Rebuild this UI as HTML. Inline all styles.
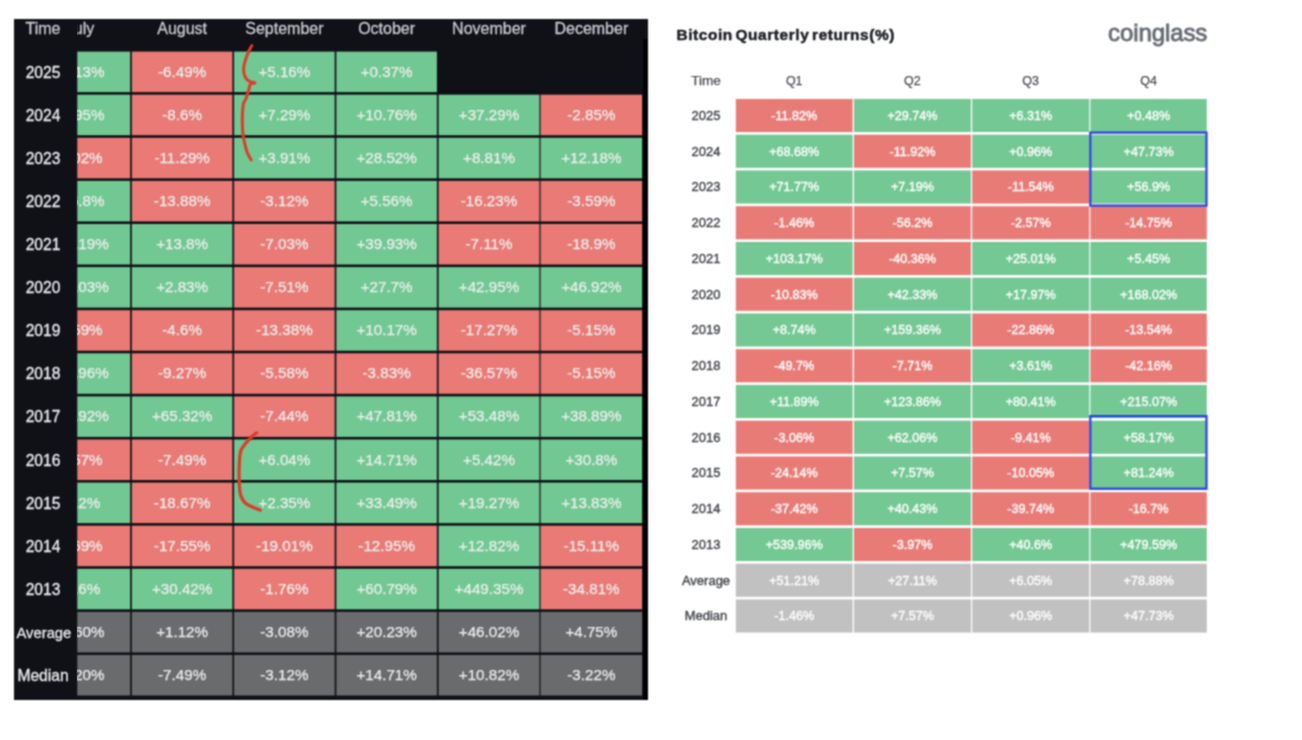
<!DOCTYPE html>
<html lang="en">
<head>
<meta charset="utf-8">
<title>Bitcoin Monthly and Quarterly returns(%)</title>
<style>
html,body{margin:0;padding:0;background:#fff;}
body{width:1302px;height:740px;position:relative;overflow:hidden;font-family:"Liberation Sans",sans-serif;}
svg.bg{position:absolute;left:0;top:0;filter:url(#soft);}
.lp{position:absolute;left:14px;top:19px;width:634px;height:681px;overflow:hidden;filter:url(#soft);}
.lp .c{position:absolute;height:40.5px;line-height:39.6px;text-align:center;color:#eceeed;font-size:15.2px;white-space:nowrap;-webkit-text-stroke:0.25px #eceeed;}
.lp .h{position:absolute;top:-5.5px;height:30px;line-height:30px;text-align:center;color:#c9cbce;font-size:16px;white-space:nowrap;-webkit-text-stroke:0.3px #c9cbce;}
.lp.cells{clip-path:inset(0 0 0 63.2px);}
.lp .y{position:absolute;left:-2.5px;width:63px;height:40.6px;line-height:42.8px;text-align:center;color:#eceded;font-size:15.6px;white-space:nowrap;-webkit-text-stroke:0.3px #eceded;}
.rp{position:absolute;left:650px;top:0;width:652px;height:740px;filter:url(#soft);}
.rp .c{position:absolute;height:33.1px;line-height:35.3px;text-align:center;color:#fbfdfc;font-size:12.6px;-webkit-text-stroke:0.4px #fbfdfc;white-space:nowrap;overflow:hidden;}
.rp .h{position:absolute;top:70px;height:22px;line-height:22px;text-align:center;color:#4b4e55;font-size:12.5px;white-space:nowrap;-webkit-text-stroke:0.25px #4b4e55;}
.rp .y{position:absolute;left:17px;width:78px;height:33.1px;line-height:34.3px;text-align:center;color:#44474d;font-size:13px;white-space:nowrap;-webkit-text-stroke:0.4px #44474d;}
.rp .title{position:absolute;left:26.5px;top:23.5px;font-size:15.4px;font-weight:bold;color:#1d1f24;line-height:22px;white-space:nowrap;letter-spacing:0.6px;word-spacing:-2.2px;-webkit-text-stroke:0.5px #1d1f24;}
.rp .logo{position:absolute;right:94.8px;top:18.2px;font-size:24px;color:#6a6e76;line-height:30px;white-space:nowrap;letter-spacing:-0.1px;-webkit-text-stroke:0.9px #6a6e76;}
svg.ann{position:absolute;left:0;top:0;filter:url(#soft);}
</style>
</head>
<body>
<svg width="0" height="0" style="position:absolute"><defs><filter id="soft" x="0" y="0" width="100%" height="100%" color-interpolation-filters="sRGB"><feConvolveMatrix order="3" kernelMatrix="1 2 1 2 4 2 1 2 1" divisor="16" edgeMode="duplicate" preserveAlpha="false"/></filter></defs></svg>
<svg class="bg" width="1302" height="740" viewBox="0 0 1302 740">
<rect x="14" y="19" width="634" height="681" fill="#0f1117"/>
<rect x="643.2" y="39" width="4.8" height="661" fill="#020203"/>
<rect x="77.30" y="51.60" width="52.85" height="40.5" fill="#72c893"/>
<rect x="131.85" y="51.60" width="100.55" height="40.5" fill="#e97a76"/>
<rect x="234.10" y="51.60" width="100.55" height="40.5" fill="#72c893"/>
<rect x="336.35" y="51.60" width="100.55" height="40.5" fill="#72c893"/>
<rect x="77.30" y="94.70" width="52.85" height="40.5" fill="#72c893"/>
<rect x="131.85" y="94.70" width="100.55" height="40.5" fill="#e97a76"/>
<rect x="234.10" y="94.70" width="100.55" height="40.5" fill="#72c893"/>
<rect x="336.35" y="94.70" width="100.55" height="40.5" fill="#72c893"/>
<rect x="438.60" y="94.70" width="100.80" height="40.5" fill="#72c893"/>
<rect x="540.60" y="94.70" width="101.50" height="40.5" fill="#e97a76"/>
<rect x="77.30" y="137.80" width="52.85" height="40.5" fill="#e97a76"/>
<rect x="131.85" y="137.80" width="100.55" height="40.5" fill="#e97a76"/>
<rect x="234.10" y="137.80" width="100.55" height="40.5" fill="#72c893"/>
<rect x="336.35" y="137.80" width="100.55" height="40.5" fill="#72c893"/>
<rect x="438.60" y="137.80" width="100.80" height="40.5" fill="#72c893"/>
<rect x="540.60" y="137.80" width="101.50" height="40.5" fill="#72c893"/>
<rect x="77.30" y="180.90" width="52.85" height="40.5" fill="#72c893"/>
<rect x="131.85" y="180.90" width="100.55" height="40.5" fill="#e97a76"/>
<rect x="234.10" y="180.90" width="100.55" height="40.5" fill="#e97a76"/>
<rect x="336.35" y="180.90" width="100.55" height="40.5" fill="#72c893"/>
<rect x="438.60" y="180.90" width="100.80" height="40.5" fill="#e97a76"/>
<rect x="540.60" y="180.90" width="101.50" height="40.5" fill="#e97a76"/>
<rect x="77.30" y="224.00" width="52.85" height="40.5" fill="#72c893"/>
<rect x="131.85" y="224.00" width="100.55" height="40.5" fill="#72c893"/>
<rect x="234.10" y="224.00" width="100.55" height="40.5" fill="#e97a76"/>
<rect x="336.35" y="224.00" width="100.55" height="40.5" fill="#72c893"/>
<rect x="438.60" y="224.00" width="100.80" height="40.5" fill="#e97a76"/>
<rect x="540.60" y="224.00" width="101.50" height="40.5" fill="#e97a76"/>
<rect x="77.30" y="267.10" width="52.85" height="40.5" fill="#72c893"/>
<rect x="131.85" y="267.10" width="100.55" height="40.5" fill="#72c893"/>
<rect x="234.10" y="267.10" width="100.55" height="40.5" fill="#e97a76"/>
<rect x="336.35" y="267.10" width="100.55" height="40.5" fill="#72c893"/>
<rect x="438.60" y="267.10" width="100.80" height="40.5" fill="#72c893"/>
<rect x="540.60" y="267.10" width="101.50" height="40.5" fill="#72c893"/>
<rect x="77.30" y="310.20" width="52.85" height="40.5" fill="#e97a76"/>
<rect x="131.85" y="310.20" width="100.55" height="40.5" fill="#e97a76"/>
<rect x="234.10" y="310.20" width="100.55" height="40.5" fill="#e97a76"/>
<rect x="336.35" y="310.20" width="100.55" height="40.5" fill="#72c893"/>
<rect x="438.60" y="310.20" width="100.80" height="40.5" fill="#e97a76"/>
<rect x="540.60" y="310.20" width="101.50" height="40.5" fill="#e97a76"/>
<rect x="77.30" y="353.30" width="52.85" height="40.5" fill="#72c893"/>
<rect x="131.85" y="353.30" width="100.55" height="40.5" fill="#e97a76"/>
<rect x="234.10" y="353.30" width="100.55" height="40.5" fill="#e97a76"/>
<rect x="336.35" y="353.30" width="100.55" height="40.5" fill="#e97a76"/>
<rect x="438.60" y="353.30" width="100.80" height="40.5" fill="#e97a76"/>
<rect x="540.60" y="353.30" width="101.50" height="40.5" fill="#e97a76"/>
<rect x="77.30" y="396.40" width="52.85" height="40.5" fill="#72c893"/>
<rect x="131.85" y="396.40" width="100.55" height="40.5" fill="#72c893"/>
<rect x="234.10" y="396.40" width="100.55" height="40.5" fill="#e97a76"/>
<rect x="336.35" y="396.40" width="100.55" height="40.5" fill="#72c893"/>
<rect x="438.60" y="396.40" width="100.80" height="40.5" fill="#72c893"/>
<rect x="540.60" y="396.40" width="101.50" height="40.5" fill="#72c893"/>
<rect x="77.30" y="439.50" width="52.85" height="40.5" fill="#e97a76"/>
<rect x="131.85" y="439.50" width="100.55" height="40.5" fill="#e97a76"/>
<rect x="234.10" y="439.50" width="100.55" height="40.5" fill="#72c893"/>
<rect x="336.35" y="439.50" width="100.55" height="40.5" fill="#72c893"/>
<rect x="438.60" y="439.50" width="100.80" height="40.5" fill="#72c893"/>
<rect x="540.60" y="439.50" width="101.50" height="40.5" fill="#72c893"/>
<rect x="77.30" y="482.60" width="52.85" height="40.5" fill="#72c893"/>
<rect x="131.85" y="482.60" width="100.55" height="40.5" fill="#e97a76"/>
<rect x="234.10" y="482.60" width="100.55" height="40.5" fill="#72c893"/>
<rect x="336.35" y="482.60" width="100.55" height="40.5" fill="#72c893"/>
<rect x="438.60" y="482.60" width="100.80" height="40.5" fill="#72c893"/>
<rect x="540.60" y="482.60" width="101.50" height="40.5" fill="#72c893"/>
<rect x="77.30" y="525.70" width="52.85" height="40.5" fill="#e97a76"/>
<rect x="131.85" y="525.70" width="100.55" height="40.5" fill="#e97a76"/>
<rect x="234.10" y="525.70" width="100.55" height="40.5" fill="#e97a76"/>
<rect x="336.35" y="525.70" width="100.55" height="40.5" fill="#e97a76"/>
<rect x="438.60" y="525.70" width="100.80" height="40.5" fill="#72c893"/>
<rect x="540.60" y="525.70" width="101.50" height="40.5" fill="#e97a76"/>
<rect x="77.30" y="568.80" width="52.85" height="40.5" fill="#72c893"/>
<rect x="131.85" y="568.80" width="100.55" height="40.5" fill="#72c893"/>
<rect x="234.10" y="568.80" width="100.55" height="40.5" fill="#e97a76"/>
<rect x="336.35" y="568.80" width="100.55" height="40.5" fill="#72c893"/>
<rect x="438.60" y="568.80" width="100.80" height="40.5" fill="#72c893"/>
<rect x="540.60" y="568.80" width="101.50" height="40.5" fill="#e97a76"/>
<rect x="77.30" y="611.90" width="52.85" height="40.5" fill="#6a6b6d"/>
<rect x="131.85" y="611.90" width="100.55" height="40.5" fill="#6a6b6d"/>
<rect x="234.10" y="611.90" width="100.55" height="40.5" fill="#6a6b6d"/>
<rect x="336.35" y="611.90" width="100.55" height="40.5" fill="#6a6b6d"/>
<rect x="438.60" y="611.90" width="100.80" height="40.5" fill="#6a6b6d"/>
<rect x="540.60" y="611.90" width="101.50" height="40.5" fill="#6a6b6d"/>
<rect x="77.30" y="655.00" width="52.85" height="40.5" fill="#6a6b6d"/>
<rect x="131.85" y="655.00" width="100.55" height="40.5" fill="#6a6b6d"/>
<rect x="234.10" y="655.00" width="100.55" height="40.5" fill="#6a6b6d"/>
<rect x="336.35" y="655.00" width="100.55" height="40.5" fill="#6a6b6d"/>
<rect x="438.60" y="655.00" width="100.80" height="40.5" fill="#6a6b6d"/>
<rect x="540.60" y="655.00" width="101.50" height="40.5" fill="#6a6b6d"/>
<rect x="735.80" y="98.95" width="116.90" height="33.1" fill="#e97b77"/>
<rect x="854.00" y="98.95" width="116.90" height="33.1" fill="#74c894"/>
<rect x="972.20" y="98.95" width="117.00" height="33.1" fill="#74c894"/>
<rect x="1090.40" y="98.95" width="116.40" height="33.1" fill="#74c894"/>
<rect x="735.80" y="134.70" width="116.90" height="33.1" fill="#74c894"/>
<rect x="854.00" y="134.70" width="116.90" height="33.1" fill="#e97b77"/>
<rect x="972.20" y="134.70" width="117.00" height="33.1" fill="#74c894"/>
<rect x="1090.40" y="134.70" width="116.40" height="33.1" fill="#74c894"/>
<rect x="735.80" y="170.45" width="116.90" height="33.1" fill="#74c894"/>
<rect x="854.00" y="170.45" width="116.90" height="33.1" fill="#74c894"/>
<rect x="972.20" y="170.45" width="117.00" height="33.1" fill="#e97b77"/>
<rect x="1090.40" y="170.45" width="116.40" height="33.1" fill="#74c894"/>
<rect x="735.80" y="206.20" width="116.90" height="33.1" fill="#e97b77"/>
<rect x="854.00" y="206.20" width="116.90" height="33.1" fill="#e97b77"/>
<rect x="972.20" y="206.20" width="117.00" height="33.1" fill="#e97b77"/>
<rect x="1090.40" y="206.20" width="116.40" height="33.1" fill="#e97b77"/>
<rect x="735.80" y="241.95" width="116.90" height="33.1" fill="#74c894"/>
<rect x="854.00" y="241.95" width="116.90" height="33.1" fill="#e97b77"/>
<rect x="972.20" y="241.95" width="117.00" height="33.1" fill="#74c894"/>
<rect x="1090.40" y="241.95" width="116.40" height="33.1" fill="#74c894"/>
<rect x="735.80" y="277.70" width="116.90" height="33.1" fill="#e97b77"/>
<rect x="854.00" y="277.70" width="116.90" height="33.1" fill="#74c894"/>
<rect x="972.20" y="277.70" width="117.00" height="33.1" fill="#74c894"/>
<rect x="1090.40" y="277.70" width="116.40" height="33.1" fill="#74c894"/>
<rect x="735.80" y="313.45" width="116.90" height="33.1" fill="#74c894"/>
<rect x="854.00" y="313.45" width="116.90" height="33.1" fill="#74c894"/>
<rect x="972.20" y="313.45" width="117.00" height="33.1" fill="#e97b77"/>
<rect x="1090.40" y="313.45" width="116.40" height="33.1" fill="#e97b77"/>
<rect x="735.80" y="349.20" width="116.90" height="33.1" fill="#e97b77"/>
<rect x="854.00" y="349.20" width="116.90" height="33.1" fill="#e97b77"/>
<rect x="972.20" y="349.20" width="117.00" height="33.1" fill="#74c894"/>
<rect x="1090.40" y="349.20" width="116.40" height="33.1" fill="#e97b77"/>
<rect x="735.80" y="384.95" width="116.90" height="33.1" fill="#74c894"/>
<rect x="854.00" y="384.95" width="116.90" height="33.1" fill="#74c894"/>
<rect x="972.20" y="384.95" width="117.00" height="33.1" fill="#74c894"/>
<rect x="1090.40" y="384.95" width="116.40" height="33.1" fill="#74c894"/>
<rect x="735.80" y="420.70" width="116.90" height="33.1" fill="#e97b77"/>
<rect x="854.00" y="420.70" width="116.90" height="33.1" fill="#74c894"/>
<rect x="972.20" y="420.70" width="117.00" height="33.1" fill="#e97b77"/>
<rect x="1090.40" y="420.70" width="116.40" height="33.1" fill="#74c894"/>
<rect x="735.80" y="456.45" width="116.90" height="33.1" fill="#e97b77"/>
<rect x="854.00" y="456.45" width="116.90" height="33.1" fill="#74c894"/>
<rect x="972.20" y="456.45" width="117.00" height="33.1" fill="#e97b77"/>
<rect x="1090.40" y="456.45" width="116.40" height="33.1" fill="#74c894"/>
<rect x="735.80" y="492.20" width="116.90" height="33.1" fill="#e97b77"/>
<rect x="854.00" y="492.20" width="116.90" height="33.1" fill="#74c894"/>
<rect x="972.20" y="492.20" width="117.00" height="33.1" fill="#e97b77"/>
<rect x="1090.40" y="492.20" width="116.40" height="33.1" fill="#e97b77"/>
<rect x="735.80" y="527.95" width="116.90" height="33.1" fill="#74c894"/>
<rect x="854.00" y="527.95" width="116.90" height="33.1" fill="#e97b77"/>
<rect x="972.20" y="527.95" width="117.00" height="33.1" fill="#74c894"/>
<rect x="1090.40" y="527.95" width="116.40" height="33.1" fill="#74c894"/>
<rect x="735.80" y="563.70" width="116.90" height="33.1" fill="#c1c1c1"/>
<rect x="854.00" y="563.70" width="116.90" height="33.1" fill="#c1c1c1"/>
<rect x="972.20" y="563.70" width="117.00" height="33.1" fill="#c1c1c1"/>
<rect x="1090.40" y="563.70" width="116.40" height="33.1" fill="#c1c1c1"/>
<rect x="735.80" y="599.45" width="116.90" height="33.1" fill="#c1c1c1"/>
<rect x="854.00" y="599.45" width="116.90" height="33.1" fill="#c1c1c1"/>
<rect x="972.20" y="599.45" width="117.00" height="33.1" fill="#c1c1c1"/>
<rect x="1090.40" y="599.45" width="116.40" height="33.1" fill="#c1c1c1"/>
<g fill="none" stroke="#2a3fe2" stroke-width="2.2">
<rect x="1090.3" y="132.6" width="116.2" height="73"/>
<rect x="1090.3" y="416.1" width="116.2" height="72.6"/>
</g>
</svg>
<div class="lp cells">
<div class="h" style="left:16.00px;width:100.15px">July</div>
<div class="h" style="left:117.85px;width:100.55px">August</div>
<div class="h" style="left:220.10px;width:100.55px">September</div>
<div class="h" style="left:322.35px;width:100.55px">October</div>
<div class="h" style="left:424.60px;width:100.80px">November</div>
<div class="h" style="left:526.60px;width:101.50px">December</div>
<div class="c" style="left:14.50px;top:32.60px;width:100.15px">+8.13%</div>
<div class="c" style="left:117.85px;top:32.60px;width:100.55px">-6.49%</div>
<div class="c" style="left:220.10px;top:32.60px;width:100.55px">+5.16%</div>
<div class="c" style="left:322.35px;top:32.60px;width:100.55px">+0.37%</div>
<div class="c" style="left:14.50px;top:75.70px;width:100.15px">+2.95%</div>
<div class="c" style="left:117.85px;top:75.70px;width:100.55px">-8.6%</div>
<div class="c" style="left:220.10px;top:75.70px;width:100.55px">+7.29%</div>
<div class="c" style="left:322.35px;top:75.70px;width:100.55px">+10.76%</div>
<div class="c" style="left:424.60px;top:75.70px;width:100.80px">+37.29%</div>
<div class="c" style="left:526.60px;top:75.70px;width:101.50px">-2.85%</div>
<div class="c" style="left:14.50px;top:118.80px;width:100.15px">-4.02%</div>
<div class="c" style="left:117.85px;top:118.80px;width:100.55px">-11.29%</div>
<div class="c" style="left:220.10px;top:118.80px;width:100.55px">+3.91%</div>
<div class="c" style="left:322.35px;top:118.80px;width:100.55px">+28.52%</div>
<div class="c" style="left:424.60px;top:118.80px;width:100.80px">+8.81%</div>
<div class="c" style="left:526.60px;top:118.80px;width:101.50px">+12.18%</div>
<div class="c" style="left:14.50px;top:161.90px;width:100.15px">+16.8%</div>
<div class="c" style="left:117.85px;top:161.90px;width:100.55px">-13.88%</div>
<div class="c" style="left:220.10px;top:161.90px;width:100.55px">-3.12%</div>
<div class="c" style="left:322.35px;top:161.90px;width:100.55px">+5.56%</div>
<div class="c" style="left:424.60px;top:161.90px;width:100.80px">-16.23%</div>
<div class="c" style="left:526.60px;top:161.90px;width:101.50px">-3.59%</div>
<div class="c" style="left:14.50px;top:205.00px;width:100.15px">+18.19%</div>
<div class="c" style="left:117.85px;top:205.00px;width:100.55px">+13.8%</div>
<div class="c" style="left:220.10px;top:205.00px;width:100.55px">-7.03%</div>
<div class="c" style="left:322.35px;top:205.00px;width:100.55px">+39.93%</div>
<div class="c" style="left:424.60px;top:205.00px;width:100.80px">-7.11%</div>
<div class="c" style="left:526.60px;top:205.00px;width:101.50px">-18.9%</div>
<div class="c" style="left:14.50px;top:248.10px;width:100.15px">+24.03%</div>
<div class="c" style="left:117.85px;top:248.10px;width:100.55px">+2.83%</div>
<div class="c" style="left:220.10px;top:248.10px;width:100.55px">-7.51%</div>
<div class="c" style="left:322.35px;top:248.10px;width:100.55px">+27.7%</div>
<div class="c" style="left:424.60px;top:248.10px;width:100.80px">+42.95%</div>
<div class="c" style="left:526.60px;top:248.10px;width:101.50px">+46.92%</div>
<div class="c" style="left:14.50px;top:291.20px;width:100.15px">-6.59%</div>
<div class="c" style="left:117.85px;top:291.20px;width:100.55px">-4.6%</div>
<div class="c" style="left:220.10px;top:291.20px;width:100.55px">-13.38%</div>
<div class="c" style="left:322.35px;top:291.20px;width:100.55px">+10.17%</div>
<div class="c" style="left:424.60px;top:291.20px;width:100.80px">-17.27%</div>
<div class="c" style="left:526.60px;top:291.20px;width:101.50px">-5.15%</div>
<div class="c" style="left:14.50px;top:334.30px;width:100.15px">+20.96%</div>
<div class="c" style="left:117.85px;top:334.30px;width:100.55px">-9.27%</div>
<div class="c" style="left:220.10px;top:334.30px;width:100.55px">-5.58%</div>
<div class="c" style="left:322.35px;top:334.30px;width:100.55px">-3.83%</div>
<div class="c" style="left:424.60px;top:334.30px;width:100.80px">-36.57%</div>
<div class="c" style="left:526.60px;top:334.30px;width:101.50px">-5.15%</div>
<div class="c" style="left:14.50px;top:377.40px;width:100.15px">+17.92%</div>
<div class="c" style="left:117.85px;top:377.40px;width:100.55px">+65.32%</div>
<div class="c" style="left:220.10px;top:377.40px;width:100.55px">-7.44%</div>
<div class="c" style="left:322.35px;top:377.40px;width:100.55px">+47.81%</div>
<div class="c" style="left:424.60px;top:377.40px;width:100.80px">+53.48%</div>
<div class="c" style="left:526.60px;top:377.40px;width:101.50px">+38.89%</div>
<div class="c" style="left:14.50px;top:420.50px;width:100.15px">-7.57%</div>
<div class="c" style="left:117.85px;top:420.50px;width:100.55px">-7.49%</div>
<div class="c" style="left:220.10px;top:420.50px;width:100.55px">+6.04%</div>
<div class="c" style="left:322.35px;top:420.50px;width:100.55px">+14.71%</div>
<div class="c" style="left:424.60px;top:420.50px;width:100.80px">+5.42%</div>
<div class="c" style="left:526.60px;top:420.50px;width:101.50px">+30.8%</div>
<div class="c" style="left:14.50px;top:463.60px;width:100.15px">+8.2%</div>
<div class="c" style="left:117.85px;top:463.60px;width:100.55px">-18.67%</div>
<div class="c" style="left:220.10px;top:463.60px;width:100.55px">+2.35%</div>
<div class="c" style="left:322.35px;top:463.60px;width:100.55px">+33.49%</div>
<div class="c" style="left:424.60px;top:463.60px;width:100.80px">+19.27%</div>
<div class="c" style="left:526.60px;top:463.60px;width:101.50px">+13.83%</div>
<div class="c" style="left:14.50px;top:506.70px;width:100.15px">-9.69%</div>
<div class="c" style="left:117.85px;top:506.70px;width:100.55px">-17.55%</div>
<div class="c" style="left:220.10px;top:506.70px;width:100.55px">-19.01%</div>
<div class="c" style="left:322.35px;top:506.70px;width:100.55px">-12.95%</div>
<div class="c" style="left:424.60px;top:506.70px;width:100.80px">+12.82%</div>
<div class="c" style="left:526.60px;top:506.70px;width:101.50px">-15.11%</div>
<div class="c" style="left:14.50px;top:549.80px;width:100.15px">+9.6%</div>
<div class="c" style="left:117.85px;top:549.80px;width:100.55px">+30.42%</div>
<div class="c" style="left:220.10px;top:549.80px;width:100.55px">-1.76%</div>
<div class="c" style="left:322.35px;top:549.80px;width:100.55px">+60.79%</div>
<div class="c" style="left:424.60px;top:549.80px;width:100.80px">+449.35%</div>
<div class="c" style="left:526.60px;top:549.80px;width:101.50px">-34.81%</div>
<div class="c" style="left:14.50px;top:592.90px;width:100.15px">+7.60%</div>
<div class="c" style="left:117.85px;top:592.90px;width:100.55px">+1.12%</div>
<div class="c" style="left:220.10px;top:592.90px;width:100.55px">-3.08%</div>
<div class="c" style="left:322.35px;top:592.90px;width:100.55px">+20.23%</div>
<div class="c" style="left:424.60px;top:592.90px;width:100.80px">+46.02%</div>
<div class="c" style="left:526.60px;top:592.90px;width:101.50px">+4.75%</div>
<div class="c" style="left:14.50px;top:636.00px;width:100.15px">+8.20%</div>
<div class="c" style="left:117.85px;top:636.00px;width:100.55px">-7.49%</div>
<div class="c" style="left:220.10px;top:636.00px;width:100.55px">-3.12%</div>
<div class="c" style="left:322.35px;top:636.00px;width:100.55px">+14.71%</div>
<div class="c" style="left:424.60px;top:636.00px;width:100.80px">+10.82%</div>
<div class="c" style="left:526.60px;top:636.00px;width:101.50px">-3.22%</div>
</div>
<div class="lp">
<div class="h" style="left:-2.5px;width:63px">Time</div>
<div class="y" style="top:32.60px">2025</div>
<div class="y" style="top:75.70px">2024</div>
<div class="y" style="top:118.80px">2023</div>
<div class="y" style="top:161.90px">2022</div>
<div class="y" style="top:205.00px">2021</div>
<div class="y" style="top:248.10px">2020</div>
<div class="y" style="top:291.20px">2019</div>
<div class="y" style="top:334.30px">2018</div>
<div class="y" style="top:377.40px">2017</div>
<div class="y" style="top:420.50px">2016</div>
<div class="y" style="top:463.60px">2015</div>
<div class="y" style="top:506.70px">2014</div>
<div class="y" style="top:549.80px">2013</div>
<div class="y" style="top:592.90px;font-size:14.8px;left:-1.6px">Average</div>
<div class="y" style="top:636.00px">Median</div>
</div>
<div class="rp">
<div class="title">Bitcoin Quarterly returns(%)</div>
<div class="logo">coinglass</div>
<div class="h" style="left:17px;width:78px;font-size:13.6px">Time</div>
<div class="h" style="left:85.80px;width:116.90px">Q1</div>
<div class="h" style="left:204.00px;width:116.90px">Q2</div>
<div class="h" style="left:322.20px;width:117.00px">Q3</div>
<div class="h" style="left:440.40px;width:116.40px">Q4</div>
<div class="y" style="top:98.95px">2025</div>
<div class="c" style="left:85.80px;top:98.95px;width:116.90px">-11.82%</div>
<div class="c" style="left:204.00px;top:98.95px;width:116.90px">+29.74%</div>
<div class="c" style="left:322.20px;top:98.95px;width:117.00px">+6.31%</div>
<div class="c" style="left:440.40px;top:98.95px;width:116.40px">+0.48%</div>
<div class="y" style="top:134.70px">2024</div>
<div class="c" style="left:85.80px;top:134.70px;width:116.90px">+68.68%</div>
<div class="c" style="left:204.00px;top:134.70px;width:116.90px">-11.92%</div>
<div class="c" style="left:322.20px;top:134.70px;width:117.00px">+0.96%</div>
<div class="c" style="left:440.40px;top:134.70px;width:116.40px">+47.73%</div>
<div class="y" style="top:170.45px">2023</div>
<div class="c" style="left:85.80px;top:170.45px;width:116.90px">+71.77%</div>
<div class="c" style="left:204.00px;top:170.45px;width:116.90px">+7.19%</div>
<div class="c" style="left:322.20px;top:170.45px;width:117.00px">-11.54%</div>
<div class="c" style="left:440.40px;top:170.45px;width:116.40px">+56.9%</div>
<div class="y" style="top:206.20px">2022</div>
<div class="c" style="left:85.80px;top:206.20px;width:116.90px">-1.46%</div>
<div class="c" style="left:204.00px;top:206.20px;width:116.90px">-56.2%</div>
<div class="c" style="left:322.20px;top:206.20px;width:117.00px">-2.57%</div>
<div class="c" style="left:440.40px;top:206.20px;width:116.40px">-14.75%</div>
<div class="y" style="top:241.95px">2021</div>
<div class="c" style="left:85.80px;top:241.95px;width:116.90px">+103.17%</div>
<div class="c" style="left:204.00px;top:241.95px;width:116.90px">-40.36%</div>
<div class="c" style="left:322.20px;top:241.95px;width:117.00px">+25.01%</div>
<div class="c" style="left:440.40px;top:241.95px;width:116.40px">+5.45%</div>
<div class="y" style="top:277.70px">2020</div>
<div class="c" style="left:85.80px;top:277.70px;width:116.90px">-10.83%</div>
<div class="c" style="left:204.00px;top:277.70px;width:116.90px">+42.33%</div>
<div class="c" style="left:322.20px;top:277.70px;width:117.00px">+17.97%</div>
<div class="c" style="left:440.40px;top:277.70px;width:116.40px">+168.02%</div>
<div class="y" style="top:313.45px">2019</div>
<div class="c" style="left:85.80px;top:313.45px;width:116.90px">+8.74%</div>
<div class="c" style="left:204.00px;top:313.45px;width:116.90px">+159.36%</div>
<div class="c" style="left:322.20px;top:313.45px;width:117.00px">-22.86%</div>
<div class="c" style="left:440.40px;top:313.45px;width:116.40px">-13.54%</div>
<div class="y" style="top:349.20px">2018</div>
<div class="c" style="left:85.80px;top:349.20px;width:116.90px">-49.7%</div>
<div class="c" style="left:204.00px;top:349.20px;width:116.90px">-7.71%</div>
<div class="c" style="left:322.20px;top:349.20px;width:117.00px">+3.61%</div>
<div class="c" style="left:440.40px;top:349.20px;width:116.40px">-42.16%</div>
<div class="y" style="top:384.95px">2017</div>
<div class="c" style="left:85.80px;top:384.95px;width:116.90px">+11.89%</div>
<div class="c" style="left:204.00px;top:384.95px;width:116.90px">+123.86%</div>
<div class="c" style="left:322.20px;top:384.95px;width:117.00px">+80.41%</div>
<div class="c" style="left:440.40px;top:384.95px;width:116.40px">+215.07%</div>
<div class="y" style="top:420.70px">2016</div>
<div class="c" style="left:85.80px;top:420.70px;width:116.90px">-3.06%</div>
<div class="c" style="left:204.00px;top:420.70px;width:116.90px">+62.06%</div>
<div class="c" style="left:322.20px;top:420.70px;width:117.00px">-9.41%</div>
<div class="c" style="left:440.40px;top:420.70px;width:116.40px">+58.17%</div>
<div class="y" style="top:456.45px">2015</div>
<div class="c" style="left:85.80px;top:456.45px;width:116.90px">-24.14%</div>
<div class="c" style="left:204.00px;top:456.45px;width:116.90px">+7.57%</div>
<div class="c" style="left:322.20px;top:456.45px;width:117.00px">-10.05%</div>
<div class="c" style="left:440.40px;top:456.45px;width:116.40px">+81.24%</div>
<div class="y" style="top:492.20px">2014</div>
<div class="c" style="left:85.80px;top:492.20px;width:116.90px">-37.42%</div>
<div class="c" style="left:204.00px;top:492.20px;width:116.90px">+40.43%</div>
<div class="c" style="left:322.20px;top:492.20px;width:117.00px">-39.74%</div>
<div class="c" style="left:440.40px;top:492.20px;width:116.40px">-16.7%</div>
<div class="y" style="top:527.95px">2013</div>
<div class="c" style="left:85.80px;top:527.95px;width:116.90px">+539.96%</div>
<div class="c" style="left:204.00px;top:527.95px;width:116.90px">-3.97%</div>
<div class="c" style="left:322.20px;top:527.95px;width:117.00px">+40.6%</div>
<div class="c" style="left:440.40px;top:527.95px;width:116.40px">+479.59%</div>
<div class="y" style="top:563.70px">Average</div>
<div class="c" style="left:85.80px;top:563.70px;width:116.90px">+51.21%</div>
<div class="c" style="left:204.00px;top:563.70px;width:116.90px">+27.11%</div>
<div class="c" style="left:322.20px;top:563.70px;width:117.00px">+6.05%</div>
<div class="c" style="left:440.40px;top:563.70px;width:116.40px">+78.88%</div>
<div class="y" style="top:599.45px">Median</div>
<div class="c" style="left:85.80px;top:599.45px;width:116.90px">-1.46%</div>
<div class="c" style="left:204.00px;top:599.45px;width:116.90px">+7.57%</div>
<div class="c" style="left:322.20px;top:599.45px;width:117.00px">+0.96%</div>
<div class="c" style="left:440.40px;top:599.45px;width:116.40px">+47.73%</div>
</div>
<svg class="ann" width="1302" height="740" viewBox="0 0 1302 740" fill="none" stroke="#df3a2a" stroke-width="3" stroke-linecap="round" stroke-linejoin="round">
<path d="M251.9 45.7 C251.4 46.5 250.1 48.5 249.1 50.5 C248.1 52.5 247.1 55.2 246.2 57.8 C245.3 60.4 244.3 63.6 243.9 66.0 C243.5 68.4 243.5 70.4 243.8 72.4 C244.1 74.4 244.9 76.6 245.8 78.1 C246.8 79.6 248.0 80.6 249.5 81.4 C251.0 82.2 253.8 82.6 254.7 82.8"/>
<path d="M254.7 82.8 C254.0 83.1 251.2 83.6 250.3 84.6 C249.4 85.6 249.6 87.1 249.1 88.7 C248.6 90.3 248.0 92.4 247.4 94.3 C246.8 96.2 246.1 98.4 245.4 100.0 C244.7 101.6 243.8 101.5 243.3 104.1 C242.8 106.6 242.6 111.8 242.4 115.3 C242.2 118.8 242.3 122.0 242.4 125.4 C242.5 128.8 242.7 132.6 243.1 135.6 C243.5 138.6 244.1 140.8 244.8 143.7 C245.5 146.6 246.2 150.1 247.3 152.8 C248.4 155.5 250.5 158.7 251.2 159.9"/>
<path d="M256.6 432.9 C255.7 433.6 253.0 435.5 251.2 437.2 C249.4 438.9 247.4 441.1 245.7 443.3 C244.0 445.5 241.9 447.6 240.8 450.6 C239.8 453.6 239.7 457.6 239.4 461.5 C239.1 465.4 239.0 469.6 239.0 473.7 C239.0 477.8 239.1 482.2 239.4 485.9 C239.7 489.5 239.9 492.8 240.8 495.6 C241.8 498.4 243.3 501.0 245.1 502.9 C246.9 504.8 249.3 505.6 251.8 506.8 C254.3 508.0 258.9 509.6 260.3 510.2" stroke-width="3.3"/>
</svg>
</body>
</html>
